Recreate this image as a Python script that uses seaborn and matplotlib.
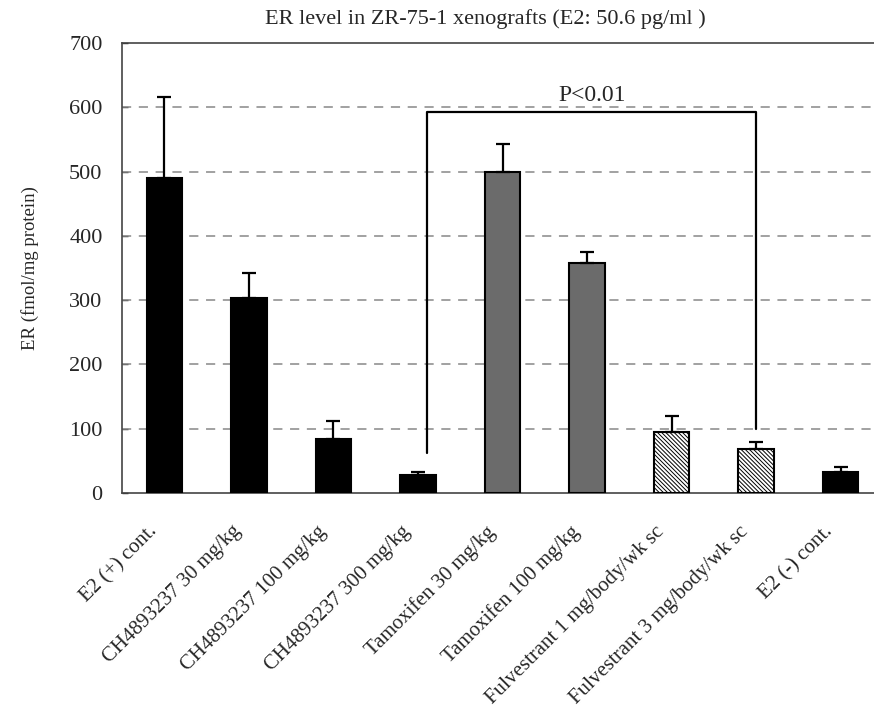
import matplotlib
matplotlib.use("Agg")
import matplotlib.pyplot as plt
import matplotlib.transforms as mtransforms
import seaborn as sns
import pandas as pd
import numpy as np

categories = ["E2 (+) cont.", "CH4893237 30 mg/kg", "CH4893237 100 mg/kg",
              "CH4893237 300 mg/kg", "Tamoxifen 30 mg/kg", "Tamoxifen 100 mg/kg",
              "Fulvestrant 1 mg/body/wk sc", "Fulvestrant 3 mg/body/wk sc", "E2 (-) cont."]
values = [490, 303, 84, 28, 499, 358, 95, 69, 33]
errors = [126, 39, 28, 5, 44, 17, 25, 11, 8]
groups = ["black", "black", "black", "black", "gray", "gray", "hatch", "hatch", "black"]
yticks = [0, 100, 200, 300, 400, 500, 600, 700]

sns.set_theme(style="white")
plt.rcParams['font.family'] = ['Liberation Serif', 'DejaVu Serif']
plt.rcParams['hatch.linewidth'] = 0.7
plt.rcParams['hatch.color'] = '#333333'

fig = plt.figure(figsize=(8.74, 7.09), dpi=100)
ax = fig.add_axes([122/874, (709-493)/709, 761/874, 450/709])

df = pd.DataFrame({"cat": categories, "val": values, "grp": groups})
color_map = {"black": "#000000", "gray": "#6b6b6b", "hatch": "#ffffff"}
sns.barplot(data=df, x="cat", y="val", hue="grp", palette=color_map, dodge=False,
            width=0.42, edgecolor="black", linewidth=1.5, legend=False, ax=ax, zorder=3)

for p in ax.patches:
    fc = p.get_facecolor()
    if fc[0] > 0.9:
        p.set_hatch("\\" * 8)
        p.set_edgecolor("black")

x = np.arange(len(categories))
ax.errorbar(x, values, yerr=[np.zeros(len(values)), errors], fmt="none",
            ecolor="black", elinewidth=1.6, capsize=5, capthick=1.6, zorder=4)

ax.set_ylim(0, 700)
ax.set_xlim(-0.5, 8.5)
ax.set_yticks(yticks)
ax.set_yticklabels([str(t) for t in yticks], fontsize=16)
for t in yticks[1:-1]:
    ax.axhline(t, color="#888888", linestyle=(0, (6, 5)), linewidth=1.1, zorder=1)

# category labels, rotated, placed below the axis with an offset
ax.set_xticks(x)
ax.set_xticklabels([""] * len(categories))
offset = mtransforms.ScaledTranslation(-0.17, -0.29, fig.dpi_scale_trans)
trans = ax.get_xaxis_transform() + offset
for xi, cat in zip(x, categories):
    ax.text(xi, 0, cat, transform=trans, rotation=45, ha="right", va="top",
            rotation_mode="anchor", fontsize=15, clip_on=False)

ax.tick_params(axis="x", length=0, pad=7)
ax.tick_params(axis="y", direction="in", length=4, width=1, left=True, pad=14)
ax.set_xlabel("")
ax.set_ylabel("ER (fmol/mg protein)", fontsize=13.5, labelpad=22)

for s in ax.spines.values():
    s.set_color("#444444")
    s.set_linewidth(1.2)

ax.set_title("ER level in ZR-75-1 xenografts (E2: 50.6 pg/ml )", fontsize=16, pad=14, x=0.478)

# significance bracket
xl, xr, ytop = 3.11, 7.0, 592
ax.plot([xl, xl, xr, xr], [62, ytop, ytop, 100], color="black", linewidth=1.6, zorder=5)
ax.text((xl + xr) / 2, ytop + 10, "P<0.01", ha="center", va="bottom", fontsize=17)

fig.savefig("out.png", dpi=100)
